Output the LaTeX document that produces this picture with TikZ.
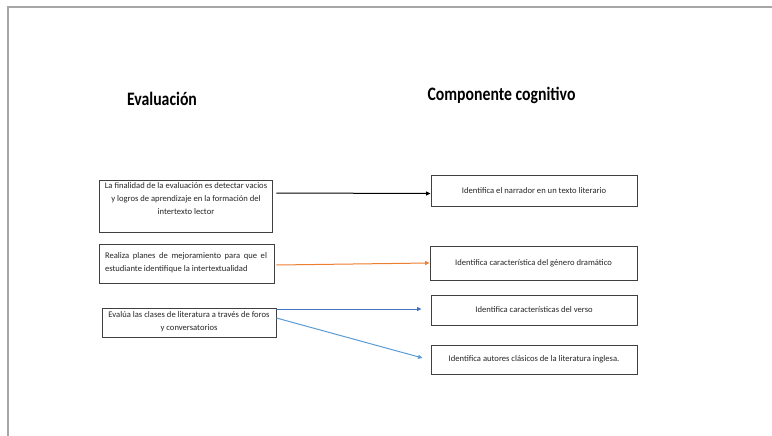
\documentclass[tikz,border=0pt]{standalone}
\usepackage{fontspec}
\setmainfont{Carlito}
\usepackage{graphicx}
\usetikzlibrary{arrows.meta,calc}
\definecolor{frameg}{HTML}{A6A6A6}
\definecolor{orng}{HTML}{ED7D31}
\definecolor{dblue}{HTML}{4472C4}
\definecolor{lblue}{HTML}{5B9BD5}
\definecolor{boxedge}{HTML}{404040}
\begin{document}
\begin{tikzpicture}[x=1pt,y=-1pt,
  boxnode/.style={draw=boxedge, line width=0.9pt, inner sep=0pt},
  txt/.style={font=\fontsize{8.6}{13}\selectfont, align=center, inner sep=0pt, text=black!85},
  titletxt/.style={font=\fontsize{19}{22}\selectfont\bfseries, inner sep=0pt, anchor=base},
  conn/.style={line width=1pt, -{Triangle[length=4.5pt,width=4pt]}}]

\useasboundingbox (0,0) rectangle (772,436);
\draw[frameg, line width=1.5pt] (772,7) -- (8,7) -- (8,436);

% titles
\node[titletxt] (t1) at (162,106) {\scalebox{0.83}[1]{Evaluación}};
\node[titletxt] (t2) at (501.5,100) {\scalebox{0.83}[1]{Componente cognitivo}};

% left boxes
\node[boxnode, minimum width=173, minimum height=52] (e1) at (185.5,206) {};
\node[txt] (e1t) at (186,199) {La finalidad de la evaluación es detectar vacios\\ y logros de aprendizaje en la formación del\\ intertexto lector};
\node[boxnode, minimum width=175, minimum height=39] (e2) at (186.5,263.5) {};
\node[txt, align=left] (e2t) at (186,263) {\makebox[162pt][s]{Realiza planes de mejoramiento para que el}\\ estudiante identifique la intertextualidad};
\node[boxnode, minimum width=174, minimum height=29] (e3) at (189,322.5) {};
\node[txt] (e3t) at (189,321.5) {Evalúa las clases de literatura a través de foros\\ y conversatorios};

% right boxes
\node[boxnode, txt, minimum width=206, minimum height=31] (r1) at (534,190.5) {Identifica el narrador en un texto literario};
\node[boxnode, txt, minimum width=207, minimum height=34] (r2) at (533.5,263) {Identifica característica del género dramático};
\node[boxnode, txt, minimum width=206, minimum height=30] (r3) at (534,310) {Identifica características del verso};
\node[boxnode, txt, minimum width=206, minimum height=29] (r4) at (534,359.5) {Identifica autores clásicos de la literatura inglesa.};

% connectors
\draw[conn, black] ($(e1.east)+(4,-13)$) -- ($(r1.west)+(0,3)$);
\draw[conn, orng] ($(e2.east)+(2,1.5)$) -- (r2.west);
\draw[conn, dblue] ($(e3.east)+(0,-13.5)$) -- ($(r3.west)+(-9,-1)$);
\draw[conn, lblue] ($(e3.east)+(0,-4.5)$) -- ($(r4.west)+(-8,-1.5)$);
\end{tikzpicture}
\end{document}
